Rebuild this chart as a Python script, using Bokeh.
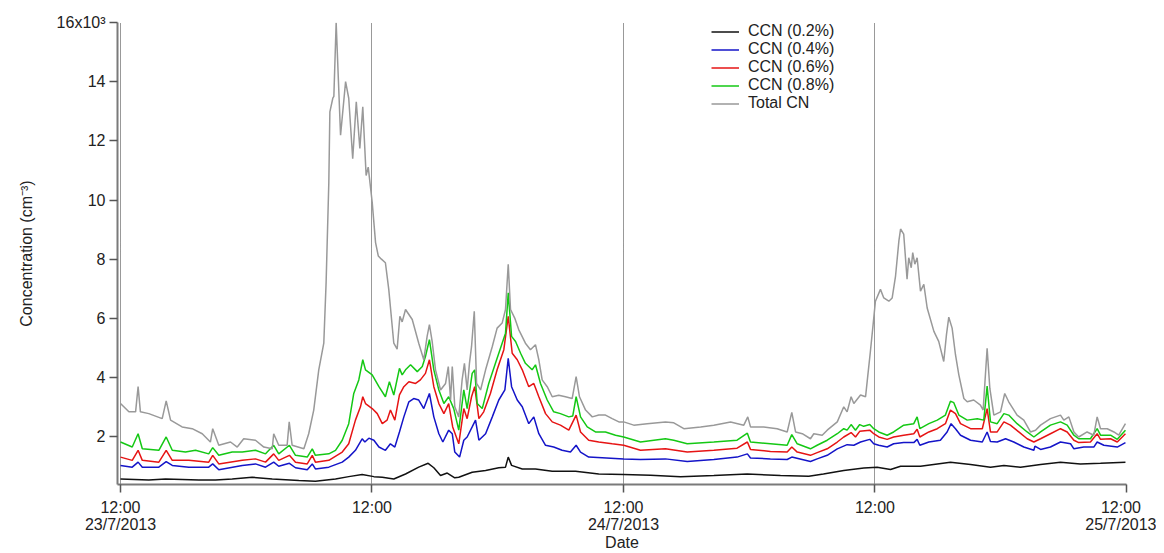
from bokeh.plotting import figure
from bokeh.models import FixedTicker, Legend, LegendItem, Range1d
from bokeh.embed import file_html
from bokeh.resources import INLINE

# ---- axis ticks / labels ----
x_ticks = [0, 12, 24, 36, 48]          # hours since 12:00 23/7/2013
x_tick_labels = ["12:00\n23/7/2013", "12:00", "12:00\n24/7/2013", "12:00", "12:00\n25/7/2013"]
y_ticks = [2000, 4000, 6000, 8000, 10000, 12000, 14000, 16000]
y_tick_labels = ["2", "4", "6", "8", "10", "12", "14", "16x10³"]

# ---- series (time in hours, concentration in cm^-3) ----
t_total = [0.00,0.40,0.72,0.84,0.95,1.35,1.99,2.18,2.39,2.94,
           3.42,3.90,4.29,4.40,4.69,5.25,5.57,5.88,6.44,6.84,
           7.24,7.31,7.55,7.95,8.05,8.19,8.75,8.98,9.22,9.46,
           9.70,9.81,9.94,9.99,10.13,10.18,10.29,10.50,10.74,10.89,
           11.08,11.25,11.42,11.56,11.72,11.82,12.01,12.17,12.30,12.45,
           12.64,12.80,13.04,13.20,13.33,13.44,13.60,13.92,14.23,14.47,
           14.63,14.74,14.87,15.03,15.27,15.51,15.64,15.75,15.83,15.95,
           16.14,16.30,16.41,16.54,16.65,16.75,16.88,16.99,17.18,17.42,
           17.74,17.97,18.21,18.37,18.50,18.61,18.81,19.00,19.32,19.56,
           19.80,19.96,20.12,20.36,20.60,20.91,21.23,21.55,21.74,21.90,
           22.19,22.51,22.82,23.14,23.46,23.78,24.01,24.49,25.13,26.00,
           26.40,26.88,27.68,28.31,29.11,29.74,29.93,30.06,30.69,31.33,
           31.81,32.03,32.21,32.53,32.92,33.08,33.48,33.72,34.20,34.51,
           34.67,34.86,34.99,35.31,35.55,35.66,35.78,35.91,36.02,36.26,
           36.42,36.66,36.82,36.98,37.14,37.22,37.37,37.53,37.61,37.73,
           37.80,37.90,38.01,38.17,38.33,38.49,38.81,39.04,39.28,39.41,
           39.52,39.68,39.84,40.00,40.24,40.40,40.71,41.03,41.16,41.35,
           41.48,41.67,41.99,42.19,42.38,42.78,43.10,43.42,43.66,43.90,
           44.37,44.85,45.01,45.25,45.49,45.72,46.12,46.44,46.60,46.76,
           47.08,47.40,47.63,47.95]
v_total = [3120,2840,2840,3690,2840,2780,2610,3210,2560,2330,
           2270,2100,1820,2270,1710,1820,1650,1930,1880,1650,
           1590,2100,1710,1710,2500,1710,1590,2100,2900,4260,
           5160,7200,10600,12980,13440,13500,15990,12190,14000,13440,
           11400,13320,11740,13150,10830,11110,9920,8560,8110,8000,
           7880,6980,5160,4960,6070,5880,6300,5960,5160,4600,
           5390,5790,5220,4260,3580,3800,4370,3240,4370,3010,
           2670,3920,4480,3580,4480,5050,6240,3800,3580,4260,
           5050,5670,5840,6300,7830,6300,6010,5620,5160,4940,
           5110,4600,3920,3690,3350,3400,3350,3290,4030,3350,
           2900,2670,2730,2730,2610,2500,2500,2390,2440,2500,
           2470,2270,2330,2390,2500,2390,2670,2330,2330,2270,
           2160,2820,2160,2100,1930,2100,2050,2220,2500,3010,
           2840,3350,3120,3410,3350,4090,4880,5790,6580,6980,
           6690,6580,6690,7430,8620,9020,8850,7320,8050,7710,
           8220,7830,8050,6920,7150,6350,5560,5220,4540,5450,
           6040,5670,4770,4090,3290,3180,3240,3070,2900,4990,
           3630,2730,2840,3460,3180,2730,2560,2160,2220,2390,
           2610,2730,2560,2670,2160,1990,2160,2050,2670,2270,
           2270,2160,2050,2440]

t_08 = [0.00,0.56,0.84,1.04,1.83,2.18,2.47,3.10,3.58,4.21,
        4.40,4.69,5.33,5.81,6.44,6.92,7.31,7.55,8.06,8.35,
        8.91,9.15,9.30,9.94,10.26,10.58,10.89,11.13,11.37,11.56,
        11.69,12.01,12.33,12.64,12.83,13.04,13.31,13.44,13.60,13.84,
        14.16,14.40,14.55,14.74,14.95,15.19,15.43,15.66,15.90,16.14,
        16.38,16.54,16.78,16.90,17.02,17.26,17.57,17.89,18.21,18.37,
        18.50,18.66,18.85,19.09,19.32,19.64,19.80,20.04,20.36,20.67,
        20.99,21.39,21.58,21.74,21.95,22.27,22.66,23.14,23.62,24.01,
        24.81,26.00,26.40,27.04,28.31,29.42,29.91,30.06,31.01,31.81,
        32.03,32.29,32.92,33.24,33.72,34.20,34.51,34.67,34.86,35.07,
        35.27,35.46,35.75,35.94,36.18,36.58,36.89,37.37,37.85,38.01,
        38.14,38.57,38.97,39.36,39.60,39.76,40.00,40.40,40.88,41.19,
        41.35,41.51,41.83,42.15,42.38,42.78,43.26,43.58,43.90,44.37,
        44.85,45.17,45.49,45.72,46.28,46.60,46.76,47.24,47.56,47.95]
v_08 = [1820,1650,2100,1590,1540,1990,1540,1480,1540,1420,
        1630,1370,1480,1480,1540,1420,1710,1420,1710,1370,
        1310,1590,1370,1420,1540,1880,2440,3460,3920,4600,
        4260,4090,3690,3350,3860,3410,4310,4090,4260,4430,
        4200,4370,4710,5280,4260,3580,3120,3350,2950,2220,
        3580,2950,4140,4260,3120,2950,3800,4480,5160,5500,
        6860,5390,5220,4820,4480,4260,4430,3800,3240,2840,
        2780,2670,2700,3350,2670,2330,2160,2160,2050,1990,
        1820,1930,1880,1760,1820,1880,2120,1820,1760,1710,
        2070,1760,1590,1710,1880,2100,2270,2220,2410,2220,
        2410,2350,2410,2270,2160,2050,2160,2390,2440,2670,
        2270,2440,2560,2730,3200,3150,2730,2560,2610,2560,
        3710,2500,2440,2780,2730,2440,2160,1990,2160,2390,
        2500,2390,2050,1930,1930,2270,2050,2050,1910,2220]

t_06 = [0.00,0.56,0.84,1.04,1.83,2.18,2.47,3.26,4.21,4.40,
        4.69,5.81,6.44,6.92,7.31,7.55,8.06,8.35,8.91,9.15,
        9.30,9.94,10.58,10.89,11.21,11.45,11.56,11.69,12.01,12.25,
        12.49,12.72,12.88,13.09,13.31,13.52,13.76,14.08,14.31,14.55,
        14.74,14.95,15.19,15.43,15.66,15.85,16.14,16.38,16.54,16.75,
        16.90,17.10,17.33,17.65,17.97,18.29,18.50,18.69,18.93,19.17,
        19.48,19.72,19.96,20.28,20.60,20.99,21.39,21.74,21.95,22.34,
        22.82,23.46,24.01,24.81,26.00,27.04,28.31,29.42,29.91,30.06,
        31.01,31.81,32.03,32.29,32.92,33.24,33.72,34.20,34.51,34.86,
        35.07,35.27,35.75,35.94,36.18,36.58,36.89,37.37,37.85,38.01,
        38.14,38.57,38.97,39.36,39.60,39.84,40.08,40.56,41.12,41.35,
        41.51,41.83,42.15,42.46,42.86,43.26,43.58,43.90,44.37,44.85,
        45.17,45.49,45.72,46.28,46.60,46.76,47.24,47.56,47.95]
v_06 = [1310,1200,1540,1200,1140,1540,1200,1200,1140,1370,
        1080,1200,1250,1140,1420,1200,1370,1140,1080,1370,
        1140,1200,1480,1760,2560,3010,3350,3120,2950,2780,
        2440,2560,2900,2560,3410,3690,3860,3800,3920,4140,
        4600,3690,3120,2780,3120,2330,1760,2950,2610,3350,
        3690,2610,2840,3460,4260,4940,6070,4820,4600,4260,
        3690,3800,3350,2780,2500,2390,2220,2730,2160,1880,
        1820,1760,1710,1540,1590,1480,1540,1610,1820,1570,
        1500,1480,1650,1480,1370,1460,1590,1820,1990,2140,
        1990,2180,2220,2100,1990,1910,1990,2050,2100,2250,
        1990,2160,2270,2440,2900,2780,2440,2270,2270,2950,
        2160,2160,2500,2390,2160,1930,1820,1930,2100,2270,
        2160,1880,1800,1820,2100,1910,1930,1820,2100]

t_04 = [0.00,0.56,0.84,1.04,1.83,2.18,2.47,3.26,4.21,4.40,
        4.69,5.81,6.44,6.92,7.31,7.55,8.06,8.35,8.91,9.15,
        9.30,9.94,10.58,10.89,11.21,11.53,11.66,11.85,12.09,12.33,
        12.64,12.88,13.09,13.31,13.52,13.76,13.99,14.23,14.47,14.74,
        14.95,15.19,15.38,15.66,15.83,15.95,16.18,16.38,16.54,16.78,
        16.94,17.10,17.42,17.74,18.05,18.34,18.50,18.66,18.93,19.17,
        19.48,19.72,19.96,20.28,20.67,21.07,21.47,21.74,21.95,22.34,
        22.98,24.01,24.81,26.00,27.04,28.31,29.42,29.91,30.06,31.01,
        31.81,32.03,32.92,33.24,33.72,34.20,34.67,34.99,35.31,35.75,
        35.94,36.18,36.58,36.89,37.37,37.85,38.01,38.14,38.57,39.12,
        39.44,39.63,39.84,40.08,40.56,41.12,41.35,41.51,41.83,42.23,
        42.62,43.10,43.58,43.63,43.90,44.37,44.85,45.33,45.49,45.96,
        46.44,46.60,46.92,47.56,47.95]
v_04 = [1030,970,1140,970,970,1160,1030,970,970,1080,
        880,1030,1080,970,1140,1000,1100,950,880,1080,
        910,970,1140,1310,1540,1930,1820,1950,1880,1650,
        1540,1760,1650,2160,2670,3180,3290,3240,2950,3460,
        2670,2100,1820,2220,2100,1480,1310,1880,1990,2330,
        2560,1880,2100,2670,3240,3580,4650,3690,3240,3010,
        2440,2670,2100,1710,1650,1540,1480,1710,1480,1310,
        1290,1250,1230,1250,1160,1230,1310,1420,1280,1250,
        1230,1310,1160,1250,1370,1590,1730,1710,1820,1910,
        1760,1710,1650,1760,1800,1800,1910,1710,1820,1880,
        2160,2440,2270,2050,1880,1820,2160,1840,1820,1930,
        1820,1650,1540,1680,1570,1650,1820,1760,1590,1650,
        1650,1820,1710,1650,1800]

t_02 = [0.00,1.35,2.15,3.74,4.53,5.33,6.28,7.24,8.51,9.30,
        10.26,10.89,11.53,12.09,12.49,13.04,13.60,14.23,14.68,14.95,
        15.27,15.59,15.95,16.14,16.78,17.42,18.05,18.37,18.50,18.66,
        19.17,19.80,20.60,21.71,22.82,24.01,25.29,26.72,28.31,29.90,
        31.49,32.84,33.54,34.51,35.47,36.10,36.74,37.22,38.17,39.60,
        40.56,41.51,42.15,42.94,43.90,44.85,45.80,46.76,47.95]
v_02 = [570,540,570,540,540,570,630,570,520,490,
        570,650,720,650,630,570,740,970,1100,950,
        690,770,610,630,800,860,950,970,1310,1030,
        910,910,830,830,740,720,700,650,690,740,
        690,660,740,860,940,970,890,1000,1000,1140,
        1060,970,1030,970,1060,1140,1080,1100,1140]

series_names = ["CCN (0.2%)", "CCN (0.4%)", "CCN (0.6%)", "CCN (0.8%)", "Total CN"]
series_colors = ["#111111", "#1414c8", "#e61414", "#14c814", "#999999"]

FONT = "Liberation Sans"

p = figure(width=1156, height=553, output_backend="svg", toolbar_location=None,
           x_range=Range1d(-0.143, 48), y_range=Range1d(384, 16000),
           min_border_left=117, min_border_right=30, min_border_top=22, min_border_bottom=60)
p.outline_line_color = None
p.background_fill_color = "white"

renderers = []
for t, v, c in zip([t_02, t_04, t_06, t_08, t_total],
                   [v_02, v_04, v_06, v_08, v_total], series_colors):
    r = p.line(t, v, line_color=c, line_width=1.5)
    renderers.append(r)

# axes
p.xaxis.ticker = FixedTicker(ticks=x_ticks)
p.xaxis.major_label_overrides = {k: s for k, s in zip(x_ticks, x_tick_labels)}
p.yaxis.ticker = FixedTicker(ticks=y_ticks)
p.yaxis.major_label_overrides = {k: s for k, s in zip(y_ticks, y_tick_labels)}
for ax in (p.xaxis, p.yaxis):
    ax.axis_line_color = "#7a7a7a"
    ax.axis_line_width = 2
    ax.major_tick_line_color = "#555555"
    ax.major_tick_line_width = 1.5
    ax.major_tick_out = 8
    ax.major_tick_in = 0
    ax.minor_tick_line_color = None
    ax.major_label_text_font = FONT
    ax.major_label_text_font_size = "16px"
    ax.major_label_text_color = "#222222"
    ax.axis_label_text_font = FONT
    ax.axis_label_text_font_size = "16px"
    ax.axis_label_text_font_style = "normal"
    ax.axis_label_text_color = "#222222"
p.xaxis.major_label_text_line_height = 1.0
p.xaxis.major_label_standoff = 6
p.xaxis.axis_label = "Date"
p.xaxis.axis_label_standoff = -2
p.yaxis.axis_label = "Concentration (cm⁻³)"
p.yaxis.axis_label_standoff = 19
p.yaxis.major_label_standoff = 4

# grid: dotted verticals at x ticks only
p.ygrid.grid_line_color = None
p.xgrid.ticker = FixedTicker(ticks=x_ticks)
p.xgrid.grid_line_color = "#333333"
p.xgrid.grid_line_dash = "1 1"
p.xgrid.grid_line_width = 1

legend = Legend(items=[LegendItem(label=n, renderers=[r]) for n, r in zip(series_names, renderers)],
                location=(594, 372), border_line_color=None, background_fill_alpha=0,
                padding=0, margin=0, spacing=0, glyph_width=28, glyph_height=15,
                label_height=15, label_standoff=9, label_text_line_height=0.9,
                label_text_font=FONT, label_text_font_size="16px", label_text_color="#222222")
p.add_layout(legend)

open("out.html", "w").write(file_html(p, INLINE))
